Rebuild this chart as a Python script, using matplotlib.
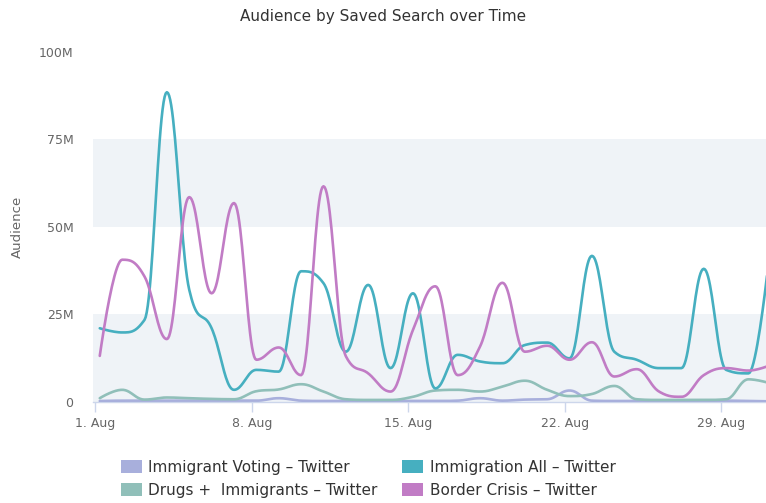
import numpy as np
import pandas as pd
import matplotlib
matplotlib.use("Agg")
from matplotlib import pyplot as plt
from matplotlib.patches import Patch
import matplotlib.dates as mdates

# daily audience, in millions, 1 Aug .. 31 Aug
dates = pd.date_range("2019-08-01 05:00", periods=31, freq="D")
immigrant_voting = [0.2, 0.3, 0.3, 0.3, 0.3, 0.3, 0.3, 0.3, 1.0, 0.3, 0.2,
                    0.2, 0.2, 0.2, 0.2, 0.2, 0.3, 1.0, 0.3, 0.6, 0.7, 3.2,
                    0.3, 0.2, 0.2, 0.2, 0.2, 0.2, 0.3, 0.2, 0.1]
drugs_immigrants = [1.0, 3.4, 0.6, 1.2, 1.0, 0.8, 0.7, 3.0, 3.5, 5.0, 2.9,
                    0.7, 0.5, 0.5, 1.4, 3.2, 3.4, 2.9, 4.3, 6.0, 3.4, 1.6,
                    2.2, 4.5, 0.7, 0.5, 0.5, 0.5, 0.7, 6.4, 5.2]
immigration_all = [21.0, 19.8, 23.4, 88.5, 32.0, 21.0, 3.4, 9.1, 8.6, 37.3,
                   33.9, 14.3, 33.4, 9.6, 31.0, 3.8, 13.4, 11.5, 11.0, 16.2,
                   16.9, 12.4, 41.7, 14.3, 12.0, 9.6, 9.6, 38.0, 9.1, 8.1,
                   46.0]
border_crisis = [13.1, 40.6, 35.8, 17.9, 58.5, 31.0, 56.8, 12.0, 15.5, 7.6,
                 61.6, 13.0, 8.1, 2.9, 20.5, 33.0, 7.6, 15.8, 34.0, 14.3,
                 16.0, 12.0, 17.0, 7.2, 9.3, 2.9, 1.4, 7.6, 9.6, 8.9, 10.5]

series = [
    ("Immigrant Voting \u2013 Twitter", immigrant_voting, "#a8afdc"),
    ("Drugs +  Immigrants \u2013 Twitter", drugs_immigrants, "#90bfb9"),
    ("Immigration All \u2013 Twitter", immigration_all, "#46afc0"),
    ("Border Crisis \u2013 Twitter", border_crisis, "#c17cc5"),
]


def spline(xs, ys, n=24):
    """highcharts style spline: bezier with smoothing 1.5, no overshoot"""
    xs = np.asarray(xs, float)
    ys = np.asarray(ys, float)
    m = len(xs)
    lcx, lcy = xs.copy(), ys.copy()
    rcx, rcy = xs.copy(), ys.copy()
    for i in range(1, m - 1):
        x, y = xs[i], ys[i]
        lx, ly, nx, ny = xs[i - 1], ys[i - 1], xs[i + 1], ys[i + 1]
        a = (1.5 * x + lx) / 2.5
        b = (1.5 * y + ly) / 2.5
        c = (1.5 * x + nx) / 2.5
        d = (1.5 * y + ny) / 2.5
        corr = (d - b) * (c - x) / (c - a) + y - d
        b += corr
        d += corr
        if b > ly and b > y:
            b = max(ly, y)
            d = 2 * y - b
        elif b < ly and b < y:
            b = min(ly, y)
            d = 2 * y - b
        if d > ny and d > y:
            d = max(ny, y)
            b = 2 * y - d
        elif d < ny and d < y:
            d = min(ny, y)
            b = 2 * y - d
        lcx[i], lcy[i], rcx[i], rcy[i] = a, b, c, d
    t = np.linspace(0, 1, n)[:, None]
    px = [xs[:1]]
    py = [ys[:1]]
    for i in range(1, m):
        p0 = np.array([xs[i - 1], ys[i - 1]])
        p1 = np.array([rcx[i - 1], rcy[i - 1]])
        p2 = np.array([lcx[i], lcy[i]])
        p3 = np.array([xs[i], ys[i]])
        pts = ((1 - t) ** 3 * p0 + 3 * (1 - t) ** 2 * t * p1
               + 3 * (1 - t) * t ** 2 * p2 + t ** 3 * p3)
        px.append(pts[1:, 0])
        py.append(pts[1:, 1])
    return np.concatenate(px), np.concatenate(py)


fig = plt.figure(figsize=(7.66, 5.03), dpi=100)
ax_w = 1 - 93 / 766
ax = fig.add_axes([93 / 766, 1 - 401.7 / 503, ax_w, (401.7 - 52) / 503])

xnum = mdates.date2num(dates)
for name, vals, col in series:
    sx, sy = spline(xnum, vals)
    ax.plot(sx, np.array(sy) * 1e6, color=col, lw=1.9, solid_capstyle="round",
            zorder=3)

# alternate bands
ax.axhspan(0, 25e6, color="#eff3f7", lw=0, zorder=0)
ax.axhspan(50e6, 75e6, color="#eff3f7", lw=0, zorder=0)

x0 = mdates.date2num(pd.Timestamp("2019-08-01"))
ax.set_xlim(x0 - 0.094, x0 + 29.99)
ax.set_ylim(0, 100e6)
ax.set_yticks([0, 25e6, 50e6, 75e6, 100e6])
ax.set_yticklabels(["0", "25M", "50M", "75M", "100M"])
ax.xaxis.set_major_locator(mdates.DayLocator(bymonthday=[1, 8, 15, 22, 29]))
ax.xaxis.set_major_formatter(mdates.DateFormatter("%-d. %b"))

for s in ["top", "right", "left"]:
    ax.spines[s].set_visible(False)
ax.spines["bottom"].set_color("#ccd6eb")
ax.spines["bottom"].set_linewidth(1.0)
ax.tick_params(axis="y", length=0, pad=14, labelsize=9, labelcolor="#666666")
ax.tick_params(axis="x", length=7, width=1, color="#ccd6eb", pad=4,
               labelsize=9, labelcolor="#666666")
ax.set_ylabel("Audience", fontsize=9.5, color="#666666")
ax.yaxis.set_label_coords((24 - 93) / 766 / ax_w, 0.5)

fig.text(0.5, 1 - 16 / 503, "Audience by Saved Search over Time",
         ha="center", va="center", fontsize=11, color="#333333")

handles = [Patch(facecolor=c, edgecolor="none") for _, _, c in series]
labels = [n for n, _, _ in series]
fig.legend(handles, labels, ncol=2, loc="upper left",
           bbox_to_anchor=(110 / 766, 1 - 449 / 503), frameon=False,
           fontsize=11, handlelength=1.37, handleheight=1.0,
           handletextpad=0.45, columnspacing=1.6, labelspacing=0.52,
           labelcolor="#333333", borderaxespad=0.3)

fig.savefig("out.png", dpi=100)
